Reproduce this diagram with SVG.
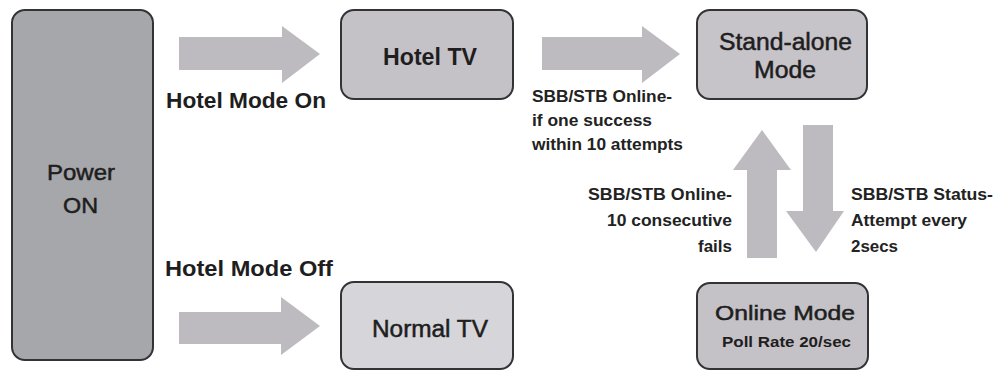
<svg xmlns="http://www.w3.org/2000/svg" width="997" height="371" viewBox="0 0 997 371">
<style>
.box{stroke:#333336;stroke-width:2}
.arrow{fill:#bdbbc0}
text{font-family:"Liberation Sans",Arial,sans-serif;fill:#1e1e20}
.b{font-weight:bold}
.m{stroke:#1e1e20;stroke-width:0.5}
.lbl{font-weight:bold;font-size:17px;fill:#222}
</style>
<rect width="997" height="371" fill="#ffffff"/>
<g id="connectors">
<polygon class="arrow" points="179,37 282,37 282,26 320,54 282,83 282,70 179,70"/>
<polygon class="arrow" points="542,37 642,37 642,26 680,54 642,83 642,70 542,70"/>
<polygon class="arrow" points="179,312 281,312 281,297 320,326 281,355 281,344 179,344"/>
<polygon class="arrow" points="747,258 747,170 733,170 762,130 791,170 777,170 777,258"/>
<polygon class="arrow" points="803,125 833,125 833,211 844,211 816,252 786,211 803,211"/>
<text class="b" x="166" y="108" font-size="22" textLength="160" lengthAdjust="spacingAndGlyphs">Hotel Mode On</text>
<text class="b" x="165" y="276" font-size="22" textLength="168" lengthAdjust="spacingAndGlyphs">Hotel Mode Off</text>
<text class="lbl" x="532" y="102" textLength="140" lengthAdjust="spacingAndGlyphs">SBB/STB Online-</text>
<text class="lbl" x="532" y="126" textLength="120" lengthAdjust="spacingAndGlyphs">if one success</text>
<text class="lbl" x="532" y="150" textLength="151" lengthAdjust="spacingAndGlyphs">within 10 attempts</text>
<text class="lbl" x="588" y="200" textLength="144" lengthAdjust="spacingAndGlyphs">SBB/STB Online-</text>
<text class="lbl" x="607" y="226" textLength="125" lengthAdjust="spacingAndGlyphs">10 consecutive</text>
<text class="lbl" x="732" y="252" text-anchor="end">fails</text>
<text class="lbl" x="851" y="200" textLength="142" lengthAdjust="spacingAndGlyphs">SBB/STB Status-</text>
<text class="lbl" x="851" y="226" textLength="116" lengthAdjust="spacingAndGlyphs">Attempt every</text>
<text class="lbl" x="851" y="252" textLength="47" lengthAdjust="spacingAndGlyphs">2secs</text>
</g>
<g id="power-on">
<rect class="box" x="12" y="10" width="141" height="350" rx="13" fill="#a6a7ab"/>
<text class="m" x="47" y="180" font-size="22" textLength="68" lengthAdjust="spacingAndGlyphs">Power</text>
<text class="m" x="63" y="213" font-size="22" textLength="35" lengthAdjust="spacingAndGlyphs">ON</text>
</g>
<g id="hotel-tv">
<rect class="box" x="341" y="10" width="172" height="89" rx="13" fill="#c4c1c7"/>
<text class="b" x="383" y="65" font-size="23" textLength="94" lengthAdjust="spacingAndGlyphs">Hotel TV</text>
</g>
<g id="stand-alone">
<rect class="box" x="697" y="10" width="170" height="89" rx="13" fill="#c6c3c9"/>
<text class="m" x="719" y="50" font-size="23" textLength="133" lengthAdjust="spacingAndGlyphs">Stand-alone</text>
<text class="m" x="754" y="78" font-size="23" textLength="62" lengthAdjust="spacingAndGlyphs">Mode</text>
</g>
<g id="online-mode">
<rect class="box" x="697" y="283" width="171" height="86" rx="13" fill="#c4c1c7"/>
<text class="m" x="715" y="320" font-size="21" textLength="140" lengthAdjust="spacingAndGlyphs">Online Mode</text>
<text class="b" x="722" y="347" font-size="15" textLength="129" lengthAdjust="spacingAndGlyphs">Poll Rate 20/sec</text>
</g>
<g id="normal-tv">
<rect class="box" x="341" y="282" width="172" height="87" rx="13" fill="#d6d5d9"/>
<text class="m" x="372" y="337" font-size="23" textLength="116" lengthAdjust="spacingAndGlyphs">Normal TV</text>
</g>
</svg>
